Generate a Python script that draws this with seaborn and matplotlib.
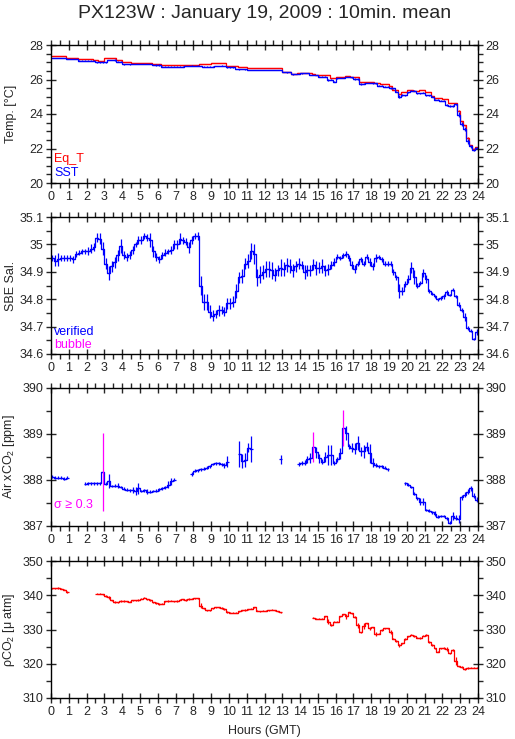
import numpy as np
import pandas as pd
import matplotlib
matplotlib.use("Agg")
import matplotlib.pyplot as plt
from matplotlib.ticker import MultipleLocator
import seaborn as sns

nan = np.nan

# 10-min means, 6 values per hour (one line per hour)
eq_t = [
    27.36, 27.36, 27.36, 27.36, 27.36, 27.27,
    27.27, 27.27, 27.27, 27.17, 27.17, 27.17,
    27.17, 27.17, 27.13, 27.13, 27.08, 27.08,
    27.23, 27.23, 27.23, 27.23, 27.13, 27.13,
    27.00, 27.00, 27.00, 26.94, 26.94, 26.94,
    26.94, 26.94, 26.94, 26.94, 26.90, 26.90,
    26.90, 26.84, 26.84, 26.84, 26.84, 26.84,
    26.84, 26.84, 26.84, 26.84, 26.84, 26.84,
    26.84, 26.84, 26.90, 26.90, 26.90, 26.90,
    26.94, 26.94, 26.94, 26.94, 26.94, 26.79,
    26.79, 26.79, 26.79, 26.71, 26.71, 26.71,
    26.65, 26.65, 26.65, 26.65, 26.65, 26.65,
    26.65, 26.65, 26.65, 26.65, 26.65, 26.65,
    26.46, 26.46, 26.46, 26.32, 26.32, 26.36,
    26.36, 26.36, 26.40, 26.40, 26.32, 26.27,
    26.27, 26.27, 26.27, 26.27, 26.07, 26.07,
    26.13, 26.13, 26.13, 26.20, 26.20, 26.17,
    26.17, 26.17, 25.88, 25.88, 25.88, 25.88,
    25.88, 25.78, 25.78, 25.73, 25.73, 25.73,
    25.63, 25.40, 25.40, 25.15, 25.26, 25.26,
    25.40, 25.40, 25.34, 25.34, 25.40, 25.40,
    25.30, 25.30, 25.05, 24.92, 24.92, 24.92,
    24.88, 24.88, 24.63, 24.63, 24.63, 24.20,
    23.57, 23.34, 22.60, 22.20, 21.97, 22.06,
]
eq_t_err = [0] * 137 + [5, 5, 5, 5, 3, 3, 3]  # x0.01 degC

sst = [
    27.23, 27.23, 27.23, 27.23, 27.23, 27.17,
    27.17, 27.17, 27.17, 27.10, 27.10, 27.10,
    27.10, 27.10, 27.10, 27.00, 27.00, 27.00,
    27.00, 27.13, 27.13, 27.13, 27.04, 27.04,
    26.88, 26.88, 26.88, 26.88, 26.88, 26.88,
    26.88, 26.88, 26.88, 26.88, 26.84, 26.84,
    26.84, 26.75, 26.75, 26.75, 26.75, 26.75,
    26.75, 26.75, 26.75, 26.79, 26.79, 26.79,
    26.79, 26.79, 26.79, 26.75, 26.75, 26.75,
    26.75, 26.80, 26.80, 26.80, 26.80, 26.71,
    26.71, 26.71, 26.60, 26.60, 26.60, 26.60,
    26.55, 26.55, 26.55, 26.55, 26.55, 26.55,
    26.55, 26.55, 26.55, 26.55, 26.55, 26.55,
    26.42, 26.42, 26.42, 26.30, 26.30, 26.30,
    26.36, 26.36, 26.36, 26.27, 26.27, 26.27,
    26.17, 26.17, 26.17, 25.98, 25.98, 25.88,
    26.07, 26.07, 26.07, 26.13, 26.13, 26.13,
    26.03, 26.03, 25.75, 25.75, 25.78, 25.78,
    25.78, 25.78, 25.65, 25.65, 25.59, 25.59,
    25.50, 25.50, 25.30, 25.00, 25.10, 25.10,
    25.26, 25.34, 25.34, 25.20, 25.20, 25.24,
    25.10, 25.10, 25.00, 24.82, 24.82, 24.78,
    24.78, 24.53, 24.47, 24.47, 24.57, 23.96,
    23.41, 23.14, 22.41, 22.12, 21.89, 22.02,
]
sst_err = [  # x0.01 degC
    1, 1, 1, 1, 1, 1,  1, 1, 1, 1, 3, 1,  1, 1, 1, 3, 3, 3,  3, 1, 1, 3, 3, 3,
    3, 1, 3, 1, 1, 1,  1, 1, 1, 1, 1, 3,  3, 1, 1, 1, 1, 1,  1, 1, 1, 1, 1, 3,
    1, 3, 1, 1, 1, 1,  1, 1, 1, 3, 1, 3,  3, 3, 1, 3, 1, 3,  1, 1, 1, 1, 1, 1,
    1, 1, 1, 1, 1, 1,  1, 3, 1, 3, 1, 1,  3, 1, 1, 1, 1, 1,  1, 1, 3, 5, 3, 5,
    3, 1, 1, 1, 1, 3,  3, 5, 5, 3, 1, 1,  3, 3, 3, 3, 1, 3,  5, 3, 5, 8, 5, 3,
    3, 3, 3, 3, 3, 3,  3, 3, 3, 3, 3, 3,  3, 5, 5, 5, 3, 15, 12, 10, 15, 8, 5, 5,
]

sal = [
    34.950, 34.940, 34.945, 34.950, 34.950, 34.950,
    34.950, 34.945, 34.965, 34.970, 34.975, 34.975,
    34.975, 34.985, 34.990, 35.025, 35.020, 34.985,
    34.930, 34.895, 34.920, 34.935, 34.960, 34.995,
    34.960, 34.955, 34.960, 34.980, 35.000, 35.015,
    35.015, 35.030, 35.025, 35.015, 34.975, 34.955,
    34.945, 34.960, 34.970, 34.975, 34.980, 35.000,
    35.000, 35.020, 35.015, 35.010, 34.990, 35.015,
    35.030, 35.030, 34.850, 34.790, 34.790, 34.755,
    34.740, 34.745, 34.760, 34.760, 34.755, 34.785,
    34.785, 34.790, 34.830, 34.880, 34.885, 34.930,
    34.940, 34.975, 34.965, 34.880, 34.890, 34.900,
    34.910, 34.910, 34.905, 34.890, 34.905, 34.915,
    34.910, 34.925, 34.920, 34.905, 34.920, 34.930,
    34.925, 34.900, 34.905, 34.905, 34.925, 34.915,
    34.915, 34.920, 34.905, 34.910, 34.925, 34.935,
    34.955, 34.950, 34.960, 34.965, 34.950, 34.925,
    34.910, 34.930, 34.945, 34.930, 34.955, 34.935,
    34.920, 34.950, 34.955, 34.945, 34.930, 34.930,
    34.930, 34.900, 34.880, 34.830, 34.830, 34.855,
    34.875, 34.915, 34.880, 34.850, 34.860, 34.895,
    34.875, 34.830, 34.820, 34.810, 34.800, 34.805,
    34.810, 34.825, 34.815, 34.835, 34.810, 34.780,
    34.760, 34.735, 34.695, 34.685, 34.655, 34.680,
]
sal_err = [  # x0.001
    12, 20, 25, 12, 12, 12,  10, 12, 12, 10, 10, 10,  15, 15, 15, 15, 20, 25,
    20, 25, 20, 20, 20, 25,  15, 15, 15, 15, 10, 15,  15, 10, 12, 25, 20, 15,
    12, 12, 12, 10, 15, 15,  15, 20, 12, 12, 20, 15,  12, 15, 35, 30, 30, 25,
    20, 15, 20, 15, 15, 20,  20, 20, 25, 20, 25, 20,  25, 30, 35, 30, 30, 25,
    30, 30, 30, 25, 20, 30,  25, 25, 25, 25, 20, 20,  15, 25, 20, 20, 20, 25,
    20, 25, 20, 20, 15, 15,  10, 8, 8, 10, 10, 15,  15, 10, 10, 8, 10, 15,
    12, 15, 8, 8, 10, 8,  8, 10, 10, 25, 15, 10,  15, 20, 25, 10, 8, 15,
    15, 8, 5, 5, 5, 8,  8, 10, 5, 5, 5, 8,  8, 15, 8, 5, 5, 10,
]

xco2 = [
    388.07, 388.05, 388.05, 388.05, 388.03, 388.05,
    nan, nan, nan, nan, nan, 387.92,
    387.93, 387.93, 387.93, 387.93, 387.93, 388.17,
    387.92, 387.97, 387.87, 387.88, 387.88, 387.85,
    387.81, 387.79, 387.78, 387.78, 387.76, 387.82,
    387.76, 387.78, 387.75, 387.75, 387.76, 387.77,
    387.80, 387.82, 387.84, 387.90, 387.97, 388.01,
    nan, nan, nan, nan, nan, 388.13,
    388.20, 388.21, 388.23, 388.25, 388.27, 388.30,
    388.35, 388.36, 388.36, 388.34, 388.32, 388.40,
    nan, nan, nan, 388.57, 388.42, 388.43,
    388.70, 388.67, nan, nan, nan, nan,
    nan, nan, nan, nan, nan, 388.45,
    nan, nan, nan, nan, nan, 388.35,
    388.37, 388.38, 388.45, 388.48, 388.72, 388.60,
    388.47, 388.40, 388.50, 388.55, 388.55, 388.37,
    388.45, 388.58, 389.13, 389.03, 388.73, 388.70,
    388.68, 388.80, 388.62, 388.62, 388.72, 388.58,
    388.38, 388.33, 388.30, 388.30, 388.27, 388.23,
    nan, nan, nan, nan, nan, 387.93,
    387.90, 387.85, 387.70, 387.60, 387.53, 387.53,
    387.35, 387.33, 387.30, 387.27, 387.20, 387.22,
    387.22, 387.17, 387.07, 387.22, 387.18, 387.15,
    387.62, 387.68, 387.75, 387.82, 387.66, 387.57,
]
xco2_err = [  # x0.01 ppm
    3, 3, 3, 3, 3, 3,  0, 0, 0, 0, 0, 3,  3, 3, 3, 3, 3, 85,  3, 15, 3, 3, 5, 3,
    3, 3, 3, 6, 8, 12,  3, 3, 5, 3, 3, 3,  3, 3, 3, 8, 8, 3,  0, 0, 0, 0, 0, 5,
    3, 3, 3, 3, 3, 3,  3, 3, 3, 3, 5, 12,  0, 0, 0, 28, 15, 15,  10, 28, 0, 0, 0, 0,
    0, 0, 0, 0, 0, 10,  0, 0, 0, 0, 0, 5,  5, 5, 8, 10, 33, 12,  10, 5, 10, 22, 22, 5,
    5, 12, 40, 15, 5, 10,  12, 15, 10, 15, 10, 20,  10, 5, 3, 3, 3, 3,  0, 0, 0, 0, 0, 3,
    3, 3, 3, 3, 8, 8,  3, 3, 3, 5, 3, 3,  3, 3, 3, 8, 5, 8,  5, 5, 5, 5, 5, 5,
]

pco2 = [
    342.0, 342.0, 342.1, 341.9, 341.6, 340.9,
    nan, nan, nan, nan, nan, nan,
    nan, nan, nan, 340.5, 340.5, 340.3,
    339.8, 339.4, 338.5, 338.0, 337.9, 338.3,
    338.3, 338.2, 338.1, 338.5, 338.5, 338.6,
    339.0, 339.3, 338.8, 338.6, 337.9, 337.7,
    337.4, 337.5, 338.2, 338.3, 338.4, 338.2,
    338.3, 338.7, 338.8, 338.6, 338.9, 339.0,
    339.1, 339.1, 337.0, 336.2, 335.6, 335.6,
    336.2, 336.5, 336.5, 336.3, 336.0, 335.1,
    334.9, 334.9, 334.9, 335.3, 335.6, 335.7,
    335.9, 336.1, 336.5, 335.5, 335.3, 335.5,
    335.5, 335.6, 335.8, 335.6, 335.3, 335.0,
    nan, nan, nan, nan, nan, nan,
    nan, nan, nan, nan, 333.5, 333.2,
    333.2, 333.2, 333.8, 332.3, 331.3, 332.3,
    332.3, 333.8, 334.4, 333.8, 335.0, 334.7,
    333.6, 331.2, 329.2, 331.0, 331.8, 330.3,
    330.6, 328.7, 328.8, 329.9, 330.3, 330.3,
    329.3, 327.3, 326.6, 325.4, 326.0, 327.2,
    328.0, 328.5, 328.1, 327.6, 327.5, 328.2,
    328.4, 326.3, 325.5, 324.5, 323.5, 324.5,
    324.6, 324.4, 323.0, 324.0, 320.8, 319.2,
    319.0, 318.5, 318.8, 318.9, 318.9, 318.9,
]
pco2_err = [  # x0.1 uatm
    2, 2, 2, 2, 2, 2,  0, 0, 0, 0, 0, 0,  0, 0, 0, 2, 2, 2,  2, 5, 2, 2, 2, 2,
    2, 2, 2, 2, 2, 2,  2, 2, 2, 2, 2, 2,  2, 2, 2, 2, 2, 2,  2, 2, 2, 2, 2, 2,
    2, 2, 8, 2, 2, 2,  2, 2, 2, 2, 2, 2,  2, 2, 2, 2, 2, 2,  2, 2, 2, 2, 2, 2,
    2, 2, 2, 2, 2, 2,  0, 0, 0, 0, 0, 0,  0, 0, 0, 0, 2, 2,  2, 2, 2, 8, 2, 2,
    2, 2, 2, 6, 2, 2,  2, 8, 2, 8, 2, 5,  2, 6, 2, 2, 2, 2,  5, 2, 2, 5, 2, 2,
    2, 2, 2, 2, 2, 2,  2, 2, 2, 2, 2, 2,  2, 6, 2, 2, 12, 2,  2, 2, 2, 2, 2, 2,
]

hours = np.arange(144) / 6 + 1 / 12   # centre of each 10-min bin
half_bin = 1 / 12

RED = "#ff0000"
BLUE = "#0000ff"
MAGENTA = "#ff00ff"
FS = 9

sns.set_style("ticks")
plt.rcParams["font.family"] = ["Liberation Sans", "DejaVu Sans"]
plt.rcParams["mathtext.fontset"] = "custom"
plt.rcParams["mathtext.rm"] = "Liberation Sans"
plt.rcParams["axes.linewidth"] = 1.0
plt.rcParams["axes.edgecolor"] = "black"


def draw_series(ax, vals, err, scale, color, flag=None):
    df = pd.DataFrame({"t": hours, "v": vals, "e": np.array(err) * scale})
    df["seg"] = df["v"].isna().cumsum()
    df = df.dropna()
    sns.lineplot(data=df, x="t", y="v", units="seg", estimator=None,
                 drawstyle="steps-mid", color=color, lw=0.9, ax=ax, legend=False)
    ax.hlines(df["v"], df["t"] - half_bin, df["t"] + half_bin, colors=color, lw=0.9)
    ecol = [MAGENTA if (flag is not None and e >= flag) else color for e in df["e"]]
    ax.vlines(df["t"], df["v"] - df["e"], df["v"] + df["e"], colors=ecol, lw=0.9)


def style_axis(ax, ylo, yhi, major, minor, label):
    ax.set_xlim(0, 24)
    ax.set_ylim(ylo, yhi)
    ax.xaxis.set_major_locator(MultipleLocator(1))
    ax.xaxis.set_minor_locator(MultipleLocator(0.5))
    ax.yaxis.set_major_locator(MultipleLocator(major))
    ax.yaxis.set_minor_locator(MultipleLocator(minor))
    ax.tick_params(which="major", direction="inout", length=7, width=1,
                   top=True, right=True, labelright=True, labelsize=FS, pad=2)
    ax.tick_params(which="minor", direction="out", length=3.5, width=1,
                   top=True, right=True)
    ax.set_xlabel("")
    ax.set_ylabel(label, fontsize=FS)
    ax.yaxis.set_label_coords(-0.08, 0.5)
    for s in ax.spines.values():
        s.set_visible(True)


fig = plt.figure(figsize=(5.15, 7.39), dpi=100)
W, H = 515, 739
left, right = 51, 478
panels = [(45, 183), (217, 354), (388, 526), (561, 698)]
axes = [fig.add_axes([left / W, 1 - b / H, (right - left) / W, (b - t) / H])
        for t, b in panels]
ax1, ax2, ax3, ax4 = axes

# Temperature
draw_series(ax1, eq_t, eq_t_err, 0.01, RED)
draw_series(ax1, sst, sst_err, 0.01, BLUE)
style_axis(ax1, 20, 28, 2, 0.5, "Temp. [°C]")
ax1.text(0.008, 0.175, "Eq_T", color=RED, fontsize=FS, transform=ax1.transAxes, va="center")
ax1.text(0.008, 0.07, "SST", color=BLUE, fontsize=FS, transform=ax1.transAxes, va="center")

# Salinity
draw_series(ax2, sal, sal_err, 0.001, BLUE)
style_axis(ax2, 34.6, 35.1, 0.1, 0.05, "SBE Sal.")
ax2.set_yticks([34.6, 34.7, 34.8, 34.9, 35.0, 35.1])
ax2.set_yticklabels(["34.6", "34.7", "34.8", "34.9", "35", "35.1"])
ax2.text(0.008, 0.16, "verified", color=BLUE, fontsize=FS, transform=ax2.transAxes, va="center")
ax2.text(0.008, 0.066, "bubble", color=MAGENTA, fontsize=FS, transform=ax2.transAxes, va="center")

# Air xCO2
draw_series(ax3, xco2, xco2_err, 0.01, BLUE, flag=0.3)
style_axis(ax3, 387, 390, 1, 0.5, "Air xCO$_2$ [ppm]")
ax3.text(0.008, 0.15, "σ ≥ 0.3", color=MAGENTA, fontsize=FS, transform=ax3.transAxes, va="center")

# pCO2
draw_series(ax4, pco2, pco2_err, 0.1, RED)
style_axis(ax4, 310, 350, 10, 5, "ρCO$_2$ [μ atm]")
ax4.set_xlabel("Hours (GMT)", fontsize=FS, labelpad=5)

fig.suptitle("PX123W : January 19, 2009 : 10min. mean", fontsize=14, x=0.513,
             y=0.993, va="top")

fig.savefig("out.png", dpi=100, facecolor="white")
plt.close(fig)
